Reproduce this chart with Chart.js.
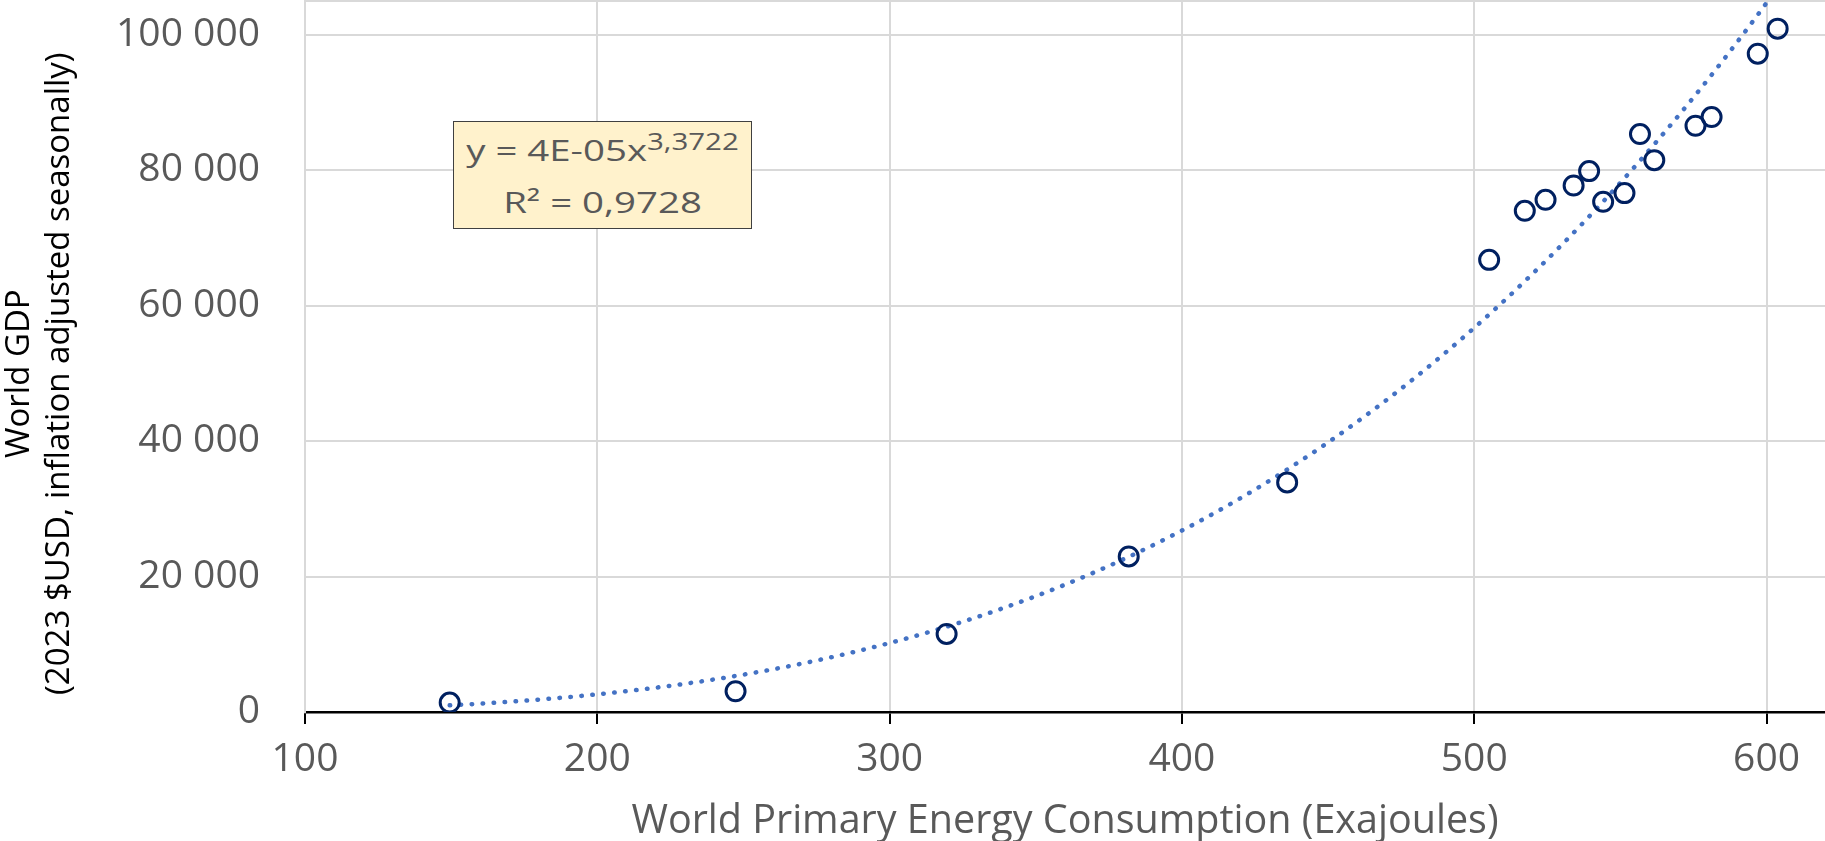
<!DOCTYPE html>
<html>
<head>
<meta charset="utf-8">
<script src="https://cdn.jsdelivr.net/npm/chart.js@4.4.1/dist/chart.umd.min.js"></script>
<style>
  html, body { margin: 0; padding: 0; background: #ffffff; }
  #wrap { position: relative; width: 1825px; height: 841px; overflow: hidden; }
  #c { position: absolute; left: 0; top: 0; }
  #eq {
    position: absolute; left: 453px; top: 121px; width: 299px; height: 108px;
    box-sizing: border-box; background: #FFF2CC; border: 1px solid #404040;
    font-family: "Open Sans", sans-serif; color: #595959; overflow: hidden;
  }
  #eqInner {
    position: absolute; left: 0; top: 3px; width: 100%;
    text-align: center; font-size: 30px; line-height: 50px;
    transform: scaleX(1.28); transform-origin: 50% 50%; white-space: nowrap;
  }
  #eqInner .sup { font-size: 23px; position: relative; top: -11px; }
</style>
</head>
<body>
<div id="wrap">
  <canvas id="c" width="1825" height="841"></canvas>
  <div id="eq"><div id="eqInner"><div id="eq1"></div><div id="eq2"></div></div></div>
</div>
<script>
// ---- data ----
const energyEJ = [149.5, 247.3, 319.5, 381.8, 436.0, 505.1, 517.3, 524.4, 534.0, 539.3, 544.1, 551.4, 556.7, 561.6, 575.7, 581.2, 597.0, 603.8];
const gdpUSD   = [1390, 3060, 11530, 22970, 33910, 66770, 74010, 75640, 77750, 79880, 75340, 76630, 85350, 81500, 86580, 87860, 97220, 100920];

const xTicks = [100, 200, 300, 400, 500, 600];
const xTickLabels = ['100', '200', '300', '400', '500', '600'];
const yTicks = [0, 20000, 40000, 60000, 80000, 100000];
const yTickLabels = ['0', '20 000', '40 000', '60 000', '80 000', '100 000'];
const xRange = [100, 620];
const yRange = [0, 105000];

const xTitle = 'World Primary Energy Consumption (Exajoules)';
const yTitle = ['World GDP', '(2023 $USD, inflation adjusted seasonally)'];
const eqText = 'y = 4E-05x';
const eqExponent = '3,3722';
const r2Text = 'R\u00B2 = 0,9728';

// ---- equation box text ----
document.getElementById('eq1').innerHTML = eqText + '<span class="sup">' + eqExponent + '</span>';
document.getElementById('eq2').textContent = r2Text;

// ---- power trendline: least squares in log-log space (as Excel does) ----
function powerFit(xs, ys) {
  const n = xs.length;
  const lx = xs.map(Math.log), ly = ys.map(Math.log);
  const mx = lx.reduce((a, b) => a + b, 0) / n;
  const my = ly.reduce((a, b) => a + b, 0) / n;
  let sxx = 0, sxy = 0;
  for (let i = 0; i < n; i++) { sxx += (lx[i] - mx) ** 2; sxy += (lx[i] - mx) * (ly[i] - my); }
  const b = sxy / sxx;
  const a = Math.exp(my - b * mx);
  return { a, b };
}
const fit = powerFit(energyEJ, gdpUSD);
const xMin = Math.min(...energyEJ), xMax = Math.max(...energyEJ);
const trendPts = [];
const STEPS = 200;
for (let i = 0; i <= STEPS; i++) {
  const x = xMin + (xMax - xMin) * i / STEPS;
  trendPts.push({ x: x, y: fit.a * Math.pow(x, fit.b) });
}

const FONT = '"Open Sans", sans-serif';
// the reference's axis title sits a little below the plot's middle
const TITLE_SHIFT = '    ';

function build() {
  new Chart(document.getElementById('c'), {
    type: 'scatter',
    data: {
      datasets: [
        {
          label: 'GDP',
          data: energyEJ.map((x, i) => ({ x: x, y: gdpUSD[i] })),
          pointRadius: 9.5,
          pointHoverRadius: 9.5,
          pointBorderWidth: 3,
          pointBorderColor: '#002060',
          pointBackgroundColor: 'rgba(255,255,255,0)',
          order: 0
        },
        {
          type: 'line',
          label: 'Trend',
          data: trendPts,
          borderColor: '#4472C4',
          borderWidth: 4.5,
          borderDash: [0.5, 10.5],
          borderCapStyle: 'round',
          pointRadius: 0,
          fill: false,
          tension: 0,
          clip: 0,
          order: 1
        }
      ]
    },
    options: {
      responsive: false,
      animation: false,
      events: [],
      layout: { autoPadding: false, padding: { top: 1, right: 0, bottom: 0, left: 0 } },
      plugins: { legend: { display: false }, tooltip: { enabled: false } },
      scales: {
        x: {
          type: 'linear',
          min: xRange[0], max: xRange[1],
          afterBuildTicks: s => { s.ticks = xTicks.map(v => ({ value: v })); },
          afterFit: s => { s.height = 129; s.paddingLeft = 0; s.paddingRight = 0; },
          grid: { color: '#d9d9d9', lineWidth: 2, tickColor: '#000000', tickWidth: 2, tickLength: 12, drawTicks: true },
          border: { color: '#000000', width: 2.5 },
          ticks: {
            font: { family: FONT, size: 39 }, color: '#595959', padding: 12, maxRotation: 0, autoSkip: false,
            callback: v => { const i = xTicks.indexOf(v); return i >= 0 ? xTickLabels[i] : ''; }
          },
          title: { display: true, text: xTitle, font: { family: FONT, size: 39.5, lineHeight: 1 }, color: '#595959', padding: { top: 0, bottom: 0 } }
        },
        y: {
          type: 'linear',
          min: yRange[0], max: yRange[1],
          afterBuildTicks: s => { s.ticks = yTicks.concat([yRange[1]]).map(v => ({ value: v })); },
          afterFit: s => { s.width = 305; s.paddingTop = 0; s.paddingBottom = 0; },
          grid: { color: '#d9d9d9', lineWidth: 2, drawTicks: false },
          border: { color: '#d9d9d9', width: 2 },
          ticks: {
            font: { family: FONT, size: 39 }, color: '#595959', padding: 45, autoSkip: false,
            callback: v => { const i = yTicks.indexOf(v); return i >= 0 ? yTickLabels[i] : ''; }
          },
          title: { display: true, text: yTitle.map(t => t + TITLE_SHIFT), font: { family: FONT, size: 33, lineHeight: 1.21 }, color: '#000000', padding: { top: 0, bottom: 0 } }
        }
      }
    }
  });
}

if (document.fonts && document.fonts.load) {
  Promise.all([document.fonts.load('39px "Open Sans"'), document.fonts.load('30px "Open Sans"')])
    .then(build, build);
} else { build(); }
</script>
</body>
</html>
